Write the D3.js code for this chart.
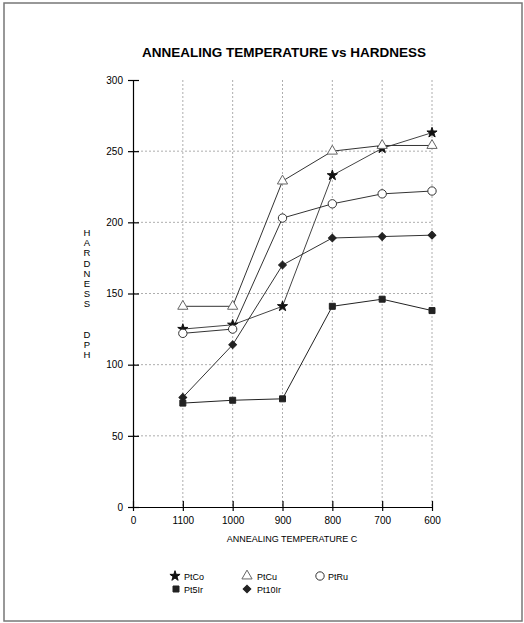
<!DOCTYPE html>
<html>
<head>
<meta charset="utf-8">
<script src="https://cdn.jsdelivr.net/npm/d3@7"></script>
<style>
  body { margin: 0; background: #fff; }
  svg { display: block; font-family: "Liberation Sans", Arial, sans-serif; }
  text { fill: #000; }
</style>
</head>
<body>
<div id="chart"></div>
<script>
const temps = ["0", "1100", "1000", "900", "800", "700", "600"];
const yTicks = [0, 50, 100, 150, 200, 250, 300];

const ptCo = [125, 128, 141, 233, 252, 263];
const ptCu = [141, 141, 229, 250, 254, 254];
const ptRu = [122, 125, 203, 213, 220, 222];
const pt5Ir = [73, 75, 76, 141, 146, 138];
const pt10Ir = [77, 114, 170, 189, 190, 191];

const W = 524, H = 623;
const svg = d3.select("#chart").append("svg")
  .attr("width", W).attr("height", H);

// page frame
svg.append("rect")
  .attr("x", 4).attr("y", 3).attr("width", 518).attr("height", 618)
  .attr("fill", "none").attr("stroke", "#777").attr("stroke-width", 1.5);

const x = d3.scalePoint().domain(temps).range([133, 432]);
const y = d3.scaleLinear().domain([0, 300]).range([507, 80]);

// title
svg.append("text")
  .attr("x", 284).attr("y", 57)
  .attr("text-anchor", "middle")
  .attr("font-weight", "bold").attr("font-size", 13.5)
  .text("ANNEALING TEMPERATURE vs HARDNESS");

// grid
const grid = svg.append("g").attr("stroke", "#999").attr("stroke-width", 0.8)
  .attr("stroke-dasharray", "2,2");
temps.slice(1).forEach(t => {
  grid.append("line")
    .attr("x1", x(t)).attr("x2", x(t))
    .attr("y1", y(300)).attr("y2", y(0));
});
yTicks.slice(1, -1).forEach(v => {
  grid.append("line")
    .attr("x1", x("0")).attr("x2", x("600"))
    .attr("y1", y(v)).attr("y2", y(v));
});

// y axis
const yAxis = svg.append("g").attr("transform", `translate(${x("0")},0)`)
  .call(d3.axisLeft(y).tickValues(yTicks).tickSizeInner(5).tickSizeOuter(0).tickPadding(5));
yAxis.select(".domain").attr("stroke", "#000").attr("stroke-width", 1.2);
yAxis.selectAll(".tick line").attr("x2", 6).attr("x1", -5).attr("stroke-width", 1.2);
yAxis.selectAll(".tick text").attr("font-size", 10).attr("font-family", null).attr("x", -10);

// x axis
const xAxis = svg.append("g").attr("transform", `translate(0,${y(0)})`)
  .call(d3.axisBottom(x).tickSizeInner(4).tickSizeOuter(0).tickPadding(6));
xAxis.select(".domain").attr("stroke", "#000").attr("stroke-width", 1.2);
xAxis.selectAll(".tick line").attr("y1", -6).attr("y2", 4).attr("stroke-width", 1.2);
xAxis.selectAll(".tick text").attr("font-size", 10).attr("font-family", null);

// axis titles
svg.append("text")
  .attr("x", 292).attr("y", 542)
  .attr("text-anchor", "middle").attr("font-size", 9)
  .text("ANNEALING TEMPERATURE C");

const yLetters = "HARDNESS  DPH".split("");
svg.append("g").selectAll("text").data(yLetters).join("text")
  .attr("x", 87)
  .attr("y", (d, i) => 236 + i * 10.2)
  .attr("text-anchor", "middle").attr("font-size", 9.5)
  .text(d => d);

// series
const series = [
  {name: "PtCo", values: ptCo, shape: d3.symbolStar, size: 32, rot: 0, fill: "#111", stroke: "#111", line: "#444"},
  {name: "PtCu", values: ptCu, shape: d3.symbolTriangle, size: 45, rot: 0, fill: "#fff", stroke: "#666", line: "#333"},
  {name: "PtRu", values: ptRu, shape: d3.symbolCircle, size: 55, rot: 0, fill: "#fff", stroke: "#333", line: "#333"},
  {name: "Pt5Ir", values: pt5Ir, shape: d3.symbolSquare, size: 36, rot: 0, fill: "#222", stroke: "#222", line: "#222"},
  {name: "Pt10Ir", values: pt10Ir, shape: d3.symbolSquare, size: 30, rot: 45, fill: "#222", stroke: "#222", line: "#333"}
];

const line = d3.line().x(d => x(d.t)).y(d => y(d.v));

series.forEach(s => {
  const pts = s.values.map((v, i) => ({t: temps[i + 1], v}));
  svg.append("path")
    .datum(pts)
    .attr("fill", "none").attr("stroke", s.line).attr("stroke-width", 1)
    .attr("d", line);
});
series.forEach(s => {
  const pts = s.values.map((v, i) => ({t: temps[i + 1], v}));
  svg.append("g").selectAll("path").data(pts).join("path")
    .attr("transform", d => `translate(${x(d.t)},${y(d.v)}) rotate(${s.rot})`)
    .attr("d", d3.symbol(s.shape, s.size))
    .attr("fill", s.fill).attr("stroke", s.stroke).attr("stroke-width", 1);
});

// legend
const legendPos = [
  {sx: 175, tx: 184, y: 576},
  {sx: 247, tx: 257, y: 576},
  {sx: 320, tx: 328, y: 576},
  {sx: 176, tx: 184, y: 589},
  {sx: 247, tx: 257, y: 589}
];
series.forEach((s, i) => {
  const p = legendPos[i];
  svg.append("path")
    .attr("transform", `translate(${p.sx},${p.y}) rotate(${s.rot})`)
    .attr("d", d3.symbol(s.shape, s.size))
    .attr("fill", s.fill).attr("stroke", s.stroke).attr("stroke-width", 1);
  svg.append("text")
    .attr("x", p.tx).attr("y", p.y + 3.5)
    .attr("font-size", 9)
    .text(s.name);
});
</script>
</body>
</html>
